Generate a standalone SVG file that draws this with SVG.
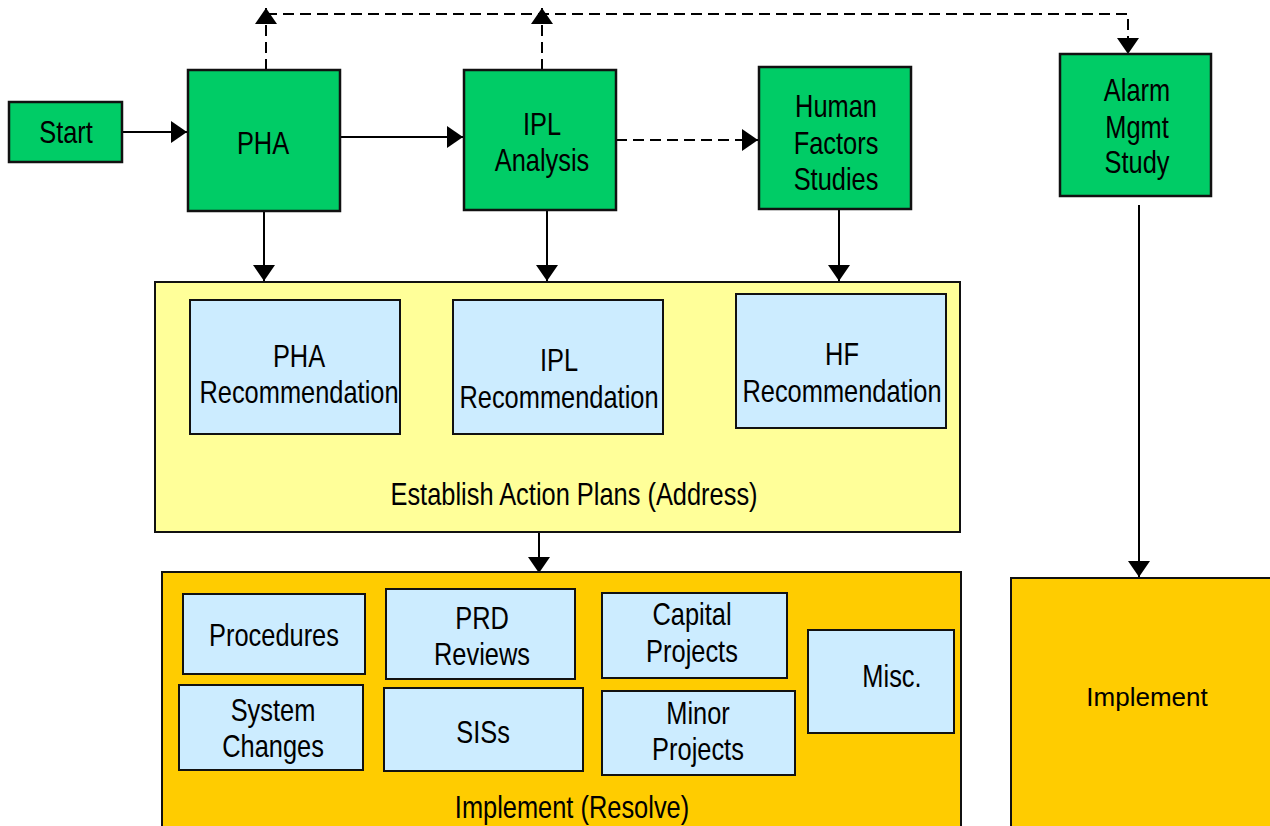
<svg xmlns="http://www.w3.org/2000/svg" width="1270" height="826" viewBox="0 0 1270 826">
  <style>
    .green { fill: #00CC66; stroke: #111; stroke-width: 2.5; }
    .yellow { fill: #FFFF99; stroke: #111; stroke-width: 2; }
    .orange { fill: #FFCC00; stroke: #111; stroke-width: 2; }
    .blue { fill: #CCECFF; stroke: #111; stroke-width: 2; }
    .lbl { font-family: "Liberation Sans", Arial, sans-serif; font-size: 31px; fill: #000; text-anchor: middle; }
    .plain { font-family: "Liberation Sans", Arial, sans-serif; font-size: 26px; fill: #000; text-anchor: middle; }
    .line { fill: none; stroke: #000; stroke-width: 2; }
    .dash { fill: none; stroke: #000; stroke-width: 2; stroke-dasharray: 11 6; }
  </style>
  <defs>
    <marker id="arrow" viewBox="0 0 16 22" refX="16" refY="11" markerWidth="16" markerHeight="22" markerUnits="userSpaceOnUse" orient="auto">
      <path d="M0,0 L16,11 L0,22 Z" fill="#000"/>
    </marker>
  </defs>

  <rect width="1270" height="826" fill="#fff"/>

  <!-- connectors -->
  <g id="connectors">
    <line class="line" x1="122" y1="132" x2="187" y2="132" marker-end="url(#arrow)"/>
    <line class="line" x1="340" y1="137" x2="463" y2="137" marker-end="url(#arrow)"/>
    <line class="dash" x1="616" y1="140" x2="758" y2="140" marker-end="url(#arrow)"/>
    <line class="dash" x1="266" y1="70" x2="266" y2="8" marker-end="url(#arrow)"/>
    <line class="dash" x1="542" y1="70" x2="542" y2="8" marker-end="url(#arrow)"/>
    <polyline class="dash" points="266,14 1128,14 1128,54" marker-end="url(#arrow)"/>
    <line class="line" x1="264" y1="211" x2="264" y2="281" marker-end="url(#arrow)"/>
    <line class="line" x1="547" y1="210" x2="547" y2="281" marker-end="url(#arrow)"/>
    <line class="line" x1="839" y1="209" x2="839" y2="281" marker-end="url(#arrow)"/>
    <line class="line" x1="539" y1="533" x2="539" y2="573" marker-end="url(#arrow)"/>
    <line class="line" x1="1139" y1="205" x2="1139" y2="577" marker-end="url(#arrow)"/>
  </g>

  <!-- process steps -->
  <g id="start">
    <rect class="green" x="9" y="102" width="113" height="60"/>
    <text class="lbl" transform="translate(66,143) scale(0.82,1)">Start</text>
  </g>
  <g id="pha">
    <rect class="green" x="188" y="70" width="152" height="141"/>
    <text class="lbl" transform="translate(263,154) scale(0.82,1)">PHA</text>
  </g>
  <g id="ipl">
    <rect class="green" x="464" y="70" width="152" height="140"/>
    <text class="lbl" transform="translate(542,135) scale(0.82,1)">IPL</text>
    <text class="lbl" transform="translate(542,171) scale(0.82,1)">Analysis</text>
  </g>
  <g id="hf">
    <rect class="green" x="759" y="67" width="152" height="142"/>
    <text class="lbl" transform="translate(836,117) scale(0.82,1)">Human</text>
    <text class="lbl" transform="translate(836,154) scale(0.82,1)">Factors</text>
    <text class="lbl" transform="translate(836,190) scale(0.82,1)">Studies</text>
  </g>
  <g id="alarm">
    <rect class="green" x="1060" y="54" width="151" height="142"/>
    <text class="lbl" transform="translate(1137,101) scale(0.82,1)">Alarm</text>
    <text class="lbl" transform="translate(1137,138) scale(0.82,1)">Mgmt</text>
    <text class="lbl" transform="translate(1137,173) scale(0.82,1)">Study</text>
  </g>

  <!-- action plans -->
  <g id="action-plans">
    <rect class="yellow" x="155" y="282" width="805" height="250"/>
    <text class="lbl" transform="translate(574,505) scale(0.82,1)">Establish Action Plans (Address)</text>
  </g>
  <g id="pha-rec">
    <rect class="blue" x="190" y="300" width="210" height="134"/>
    <text class="lbl" transform="translate(299,367) scale(0.82,1)">PHA</text>
    <text class="lbl" transform="translate(299,403) scale(0.82,1)">Recommendation</text>
  </g>
  <g id="ipl-rec">
    <rect class="blue" x="453" y="300" width="210" height="134"/>
    <text class="lbl" transform="translate(559,371) scale(0.82,1)">IPL</text>
    <text class="lbl" transform="translate(559,408) scale(0.82,1)">Recommendation</text>
  </g>
  <g id="hf-rec">
    <rect class="blue" x="736" y="294" width="210" height="134"/>
    <text class="lbl" transform="translate(842,365) scale(0.82,1)">HF</text>
    <text class="lbl" transform="translate(842,402) scale(0.82,1)">Recommendation</text>
  </g>

  <!-- implementation -->
  <g id="implement-resolve">
    <rect class="orange" x="162" y="572" width="799" height="270"/>
    <text class="lbl" transform="translate(572,818) scale(0.82,1)">Implement (Resolve)</text>
  </g>
  <g id="procedures">
    <rect class="blue" x="183" y="594" width="182" height="80"/>
    <text class="lbl" transform="translate(274,646) scale(0.82,1)">Procedures</text>
  </g>
  <g id="prd-reviews">
    <rect class="blue" x="386" y="589" width="189" height="90"/>
    <text class="lbl" transform="translate(482,629) scale(0.82,1)">PRD</text>
    <text class="lbl" transform="translate(482,665) scale(0.82,1)">Reviews</text>
  </g>
  <g id="capital-projects">
    <rect class="blue" x="602" y="593" width="185" height="85"/>
    <text class="lbl" transform="translate(692,625) scale(0.82,1)">Capital</text>
    <text class="lbl" transform="translate(692,662) scale(0.82,1)">Projects</text>
  </g>
  <g id="misc">
    <rect class="blue" x="808" y="630" width="146" height="103"/>
    <text class="lbl" transform="translate(892,687) scale(0.82,1)">Misc.</text>
  </g>
  <g id="system-changes">
    <rect class="blue" x="179" y="685" width="184" height="85"/>
    <text class="lbl" transform="translate(273,721) scale(0.82,1)">System</text>
    <text class="lbl" transform="translate(273,757) scale(0.82,1)">Changes</text>
  </g>
  <g id="siss">
    <rect class="blue" x="384" y="688" width="199" height="83"/>
    <text class="lbl" transform="translate(483,743) scale(0.82,1)">SISs</text>
  </g>
  <g id="minor-projects">
    <rect class="blue" x="602" y="691" width="193" height="84"/>
    <text class="lbl" transform="translate(698,724) scale(0.82,1)">Minor</text>
    <text class="lbl" transform="translate(698,760) scale(0.82,1)">Projects</text>
  </g>
  <g id="implement">
    <rect class="orange" x="1011" y="578" width="270" height="260"/>
    <text class="plain" x="1147" y="706">Implement</text>
  </g>
</svg>
